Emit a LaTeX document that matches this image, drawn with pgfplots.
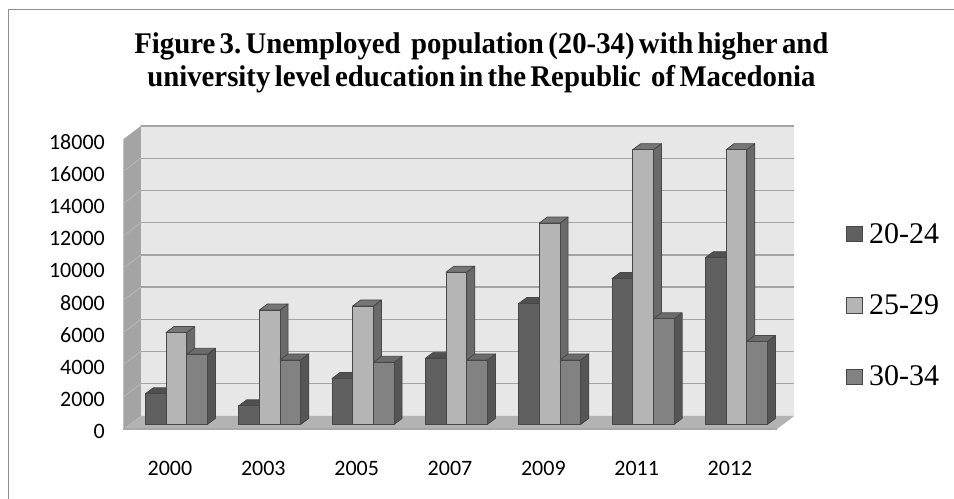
\documentclass[border=0pt]{standalone}
\usepackage{fontspec}
\usepackage{pgfplots}
\pgfplotsset{compat=1.18}

\newfontfamily\calib{Carlito}
\newfontfamily\tnr{Liberation Serif}
\newfontfamily\tnrtitle{Liberation Serif}[WordSpace=0.6, FakeStretch=0.96]

\definecolor{wallc}{HTML}{E7E7E7}
\definecolor{gridc}{HTML}{A3A3A3}
\definecolor{sidewall}{HTML}{A4A4A4}
\definecolor{sidegrid}{HTML}{B4B4B4}
\definecolor{floorc}{HTML}{B3B3B3}
\definecolor{floorfront}{HTML}{A9A9A9}
\definecolor{framec}{HTML}{8F8F8F}
\definecolor{baredge}{HTML}{474747}
\definecolor{aF}{HTML}{606060}
\definecolor{aT}{HTML}{505050}
\definecolor{aS}{HTML}{474747}
\definecolor{bF}{HTML}{B5B5B5}
\definecolor{bT}{HTML}{767676}
\definecolor{bS}{HTML}{6A6A6A}
\definecolor{cF}{HTML}{828282}
\definecolor{cT}{HTML}{6B6B6B}
\definecolor{cS}{HTML}{555555}

% column geometry, in bp
\def\barw{20.7}
\def\planex{6.4}\def\planey{4.9}
\def\depx{8}\def\depy{6}
% offset of the back wall from the front plane, in bp
\def\backshift{(17.5bp,13.3bp)}

% a column drawn as a cuboid: front face, top face and right side face.
% #1 mark name, #2 bar shift, #3 front, #4 top, #5 side colour.
% \cubh (height of the column in bp) comes from visualization depends on.
\newcommand\declarecuboid[5]{%
  \pgfdeclareplotmark{#1}{%
    \pgfmathsetmacro\xl{#2-0.5*\barw+\planex}%
    \pgfmathsetmacro\xr{#2+0.5*\barw+\planex}%
    \pgfmathsetmacro\yt{\planey}%
    \pgfmathsetmacro\yb{\planey-\cubh}%
    \pgfsetlinewidth{0.75bp}%
    \pgfsetstrokecolor{baredge}%
    \pgfsetroundjoin
    % side
    \pgfsetfillcolor{#5}%
    \pgfpathmoveto{\pgfpoint{\xr bp}{\yb bp}}%
    \pgfpathlineto{\pgfpoint{\xr bp}{\yt bp}}%
    \pgfpathlineto{\pgfpoint{\xr bp+\depx bp}{\yt bp+\depy bp}}%
    \pgfpathlineto{\pgfpoint{\xr bp+\depx bp}{\yb bp+\depy bp}}%
    \pgfpathclose
    \pgfusepath{fill,stroke}%
    % top
    \pgfsetfillcolor{#4}%
    \pgfpathmoveto{\pgfpoint{\xl bp}{\yt bp}}%
    \pgfpathlineto{\pgfpoint{\xr bp}{\yt bp}}%
    \pgfpathlineto{\pgfpoint{\xr bp+\depx bp}{\yt bp+\depy bp}}%
    \pgfpathlineto{\pgfpoint{\xl bp+\depx bp}{\yt bp+\depy bp}}%
    \pgfpathclose
    \pgfusepath{fill,stroke}%
    % front
    \pgfsetfillcolor{#3}%
    \pgfpathrectanglecorners{\pgfpoint{\xl bp}{\yb bp}}{\pgfpoint{\xr bp}{\yt bp}}%
    \pgfusepath{fill,stroke}%
  }}
\declarecuboid{cubA}{-20.7}{aF}{aT}{aS}
\declarecuboid{cubB}{0}{bF}{bT}{bS}
\declarecuboid{cubC}{20.7}{cF}{cT}{cS}

\pgfplotstableread{
cat  a     b     c
0    1900  5700  4350
1    1150  7100  4000
2    2850  7350  3850
3    4100  9450  4000
4    7500  12500 4000
5    9050  17050 6550
6    10350 17050 5150
}\unemployed

\begin{document}
\begin{tikzpicture}
\begin{axis}[
  at={(123.3bp,69.7bp)}, anchor=south west,
  scale only axis, width=653.4bp, height=290bp,
  xmin=-0.5, xmax=6.5, ymin=0, ymax=18000,
  clip=false, scaled y ticks=false,
  axis line style={draw=none},
  tick style={draw=none},
  xtick={0,...,6},
  xticklabels={2000,2003,2005,2007,2009,2011,2012},
  ytick={0,2000,...,18000},
  yticklabels={0,2000,4000,6000,8000,10000,12000,14000,16000,18000},
  x tick label style={font=\calib\fontsize{22bp}{26bp}\selectfont,
    anchor=north, inner sep=0pt, yshift=-31.7bp},
  y tick label style={font=\calib\fontsize{22bp}{26bp}\selectfont,
    anchor=east, inner sep=0pt, xshift=-18.3bp, yshift=-2.5bp},
  title={\frenchspacing Figure 3. Unemployed\hspace{0.2em} population (20-34) with higher and\\university level education in the Republic\hspace{0.2em} of Macedonia},
  title style={at={(0.548,1.3494)}, anchor=north, align=center, inner sep=0pt,
    font=\tnrtitle\bfseries\fontsize{30bp}{33bp}\selectfont},
  legend style={draw=none, fill=none, at={(1.106,0.7114)}, anchor=north west,
    inner sep=0pt, row sep=50bp, column sep=6.6bp,
    font=\tnr\fontsize{30bp}{36bp}\selectfont,
    nodes={inner sep=0pt, anchor=west}},
  legend cell align=left,
  visualization depends on={rawy*0.0161111 \as \cubh},
]
% back wall and its grid
\fill[wallc] ([shift=\backshift]axis cs:-0.5,0) rectangle ([shift=\backshift]axis cs:6.5,18000);
\pgfplotsinvokeforeach{2000,4000,6000,8000,10000,12000,14000,16000,18000}{
  \draw[gridc, line width=1.4bp] ([shift=\backshift]axis cs:-0.5,#1)
    -- ([shift=\backshift]axis cs:6.5,#1);
}
% left side wall and its grid
\fill[sidewall] (axis cs:-0.5,0) -- (axis cs:-0.5,18000)
  -- ([shift=\backshift]axis cs:-0.5,18000)
  -- ([shift=\backshift]axis cs:-0.5,0) -- cycle;
\pgfplotsinvokeforeach{2000,4000,6000,8000,10000,12000,14000,16000}{
  \draw[sidegrid, line width=1bp] (axis cs:-0.5,#1)
    -- ([shift=\backshift]axis cs:-0.5,#1);
}
% floor
\fill[floorc] (axis cs:-0.5,0) -- (axis cs:6.5,0)
  -- ([shift=\backshift]axis cs:6.5,0)
  -- ([shift=\backshift]axis cs:-0.5,0) -- cycle;
\draw[floorfront, line width=1.6bp] (axis cs:-0.5,0) -- (axis cs:6.5,0);

\addplot[only marks, mark=cubA,
  legend image code/.code={\draw[baredge, line width=0.7bp, fill=aF] (0bp,-7.85bp) rectangle (15.7bp,7.85bp);}]
  table[x=cat, y=a] {\unemployed};
\addlegendentry{20-24}
\addplot[only marks, mark=cubB,
  legend image code/.code={\draw[baredge, line width=0.7bp, fill=bF] (0bp,-7.85bp) rectangle (15.7bp,7.85bp);}]
  table[x=cat, y=b] {\unemployed};
\addlegendentry{25-29}
\addplot[only marks, mark=cubC,
  legend image code/.code={\draw[baredge, line width=0.7bp, fill=cF] (0bp,-7.85bp) rectangle (15.7bp,7.85bp);}]
  table[x=cat, y=c] {\unemployed};
\addlegendentry{30-34}
\end{axis}
% chart frame
\draw[framec, line width=1.3bp] (8.3bp,0bp) -- (8.3bp,489.3bp) -- (954bp,489.3bp);
\pgfresetboundingbox
\path[use as bounding box] (0,0) rectangle (954bp,499bp);
\end{tikzpicture}
\end{document}
